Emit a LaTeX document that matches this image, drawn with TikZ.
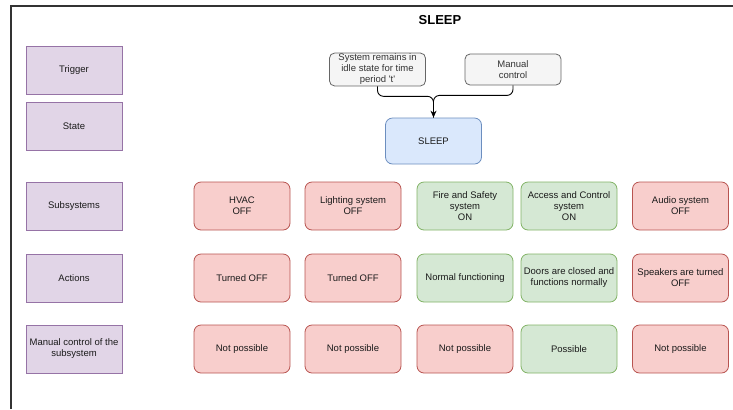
\documentclass[tikz,border=0pt]{standalone}
\usepackage{fontspec}
\setmainfont{Liberation Sans}[Ligatures=TeXOff]
\usetikzlibrary{arrows.meta}
\definecolor{purpleFill}{HTML}{E1D5E7}
\definecolor{purpleLine}{HTML}{9673A6}
\definecolor{redFill}{HTML}{F8CECC}
\definecolor{redLine}{HTML}{B85450}
\definecolor{greenFill}{HTML}{D5E8D4}
\definecolor{greenLine}{HTML}{82B366}
\definecolor{blueFill}{HTML}{DAE8FC}
\definecolor{blueLine}{HTML}{6C8EBF}
\definecolor{grayFill}{HTML}{F5F5F5}
\definecolor{grayLine}{HTML}{666666}
\definecolor{grayText}{HTML}{333333}
\definecolor{bodyText}{HTML}{1A1A1A}
\tikzset{
  cell/.style={minimum width=96bp, minimum height=48bp, inner sep=1bp,
    align=center, font=\fontsize{9.5bp}{11bp}\selectfont, text=bodyText, line width=0.8bp},
  rowlabel/.style={cell, draw=purpleLine, fill=purpleFill},
  offbox/.style={cell, rounded corners=7bp, draw=redLine, fill=redFill},
  onbox/.style={cell, rounded corners=7bp, draw=greenLine, fill=greenFill},
  statebox/.style={cell, rounded corners=7bp, draw=blueLine, fill=blueFill, minimum height=46bp},
  triggerbox/.style={cell, rounded corners=5bp, draw=grayLine, fill=grayFill,
    text=grayText, minimum height=31bp},
  link/.style={line width=0.9bp, rounded corners=6bp},
}
\begin{document}
\begin{tikzpicture}[x=1bp, y=-1bp]
  \useasboundingbox (0,0) rectangle (733,409);
  % page frame
  \draw[line width=1.2bp, color=black!80] (11,409) -- (11,6) -- (733,6);
  % title
  \node[font=\bfseries\fontsize{13bp}{15bp}\selectfont] (title) at (440,20) {SLEEP};

  % row labels
  \node[rowlabel] (lTrigger) at (74,70)  {Trigger};
  \node[rowlabel] (lState)   at (74,126) {State};
  \node[rowlabel] (lSub)     at (74,206) {Subsystems};
  \node[rowlabel] (lAct)     at (74,278) {Actions};
  \node[rowlabel] (lMan)     at (74,349) {Manual control of the\\subsystem};

  % triggers and state
  \node[triggerbox] (tIdle)   at (377.5,69.5) {System remains in\\idle state for time\\period 't'};
  \node[triggerbox] (tManual) at (513,69.5)   {Manual\\control};
  \node[statebox]   (sSleep)  at (433.5,141)  {SLEEP};

  \draw[link] (tIdle.south) -- ++(0,10) -| (sSleep.north);
  \draw[link, -{Stealth[length=7bp,width=6bp]}] (tManual.south) -- ++(0,10) -| (sSleep.north);

  % subsystems
  \node[offbox] (sHvac)   at (242,206) {HVAC\\OFF};
  \node[offbox] (sLight)  at (353,206) {Lighting system\\OFF};
  \node[onbox]  (sFire)   at (465,206) {Fire and Safety\\system\\ON};
  \node[onbox]  (sAccess) at (569,206) {Access and Control\\system\\ON};
  \node[offbox] (sAudio)  at (680.5,206) {Audio system\\OFF};

  % actions
  \node[offbox] (aHvac)   at (242,278) {Turned OFF};
  \node[offbox] (aLight)  at (353,278) {Turned OFF};
  \node[onbox]  (aFire)   at (465,278) {Normal functioning};
  \node[onbox]  (aAccess) at (569,278) {Doors are closed and\\functions normally};
  \node[offbox] (aAudio)  at (680.5,278) {Speakers are turned\\OFF};

  % manual control
  \node[offbox] (mHvac)   at (242,349) {Not possible};
  \node[offbox] (mLight)  at (353,349) {Not possible};
  \node[offbox] (mFire)   at (465,349) {Not possible};
  \node[onbox]  (mAccess) at (569,349) {Possible};
  \node[offbox] (mAudio)  at (680.5,349) {Not possible};
\end{tikzpicture}
\end{document}
